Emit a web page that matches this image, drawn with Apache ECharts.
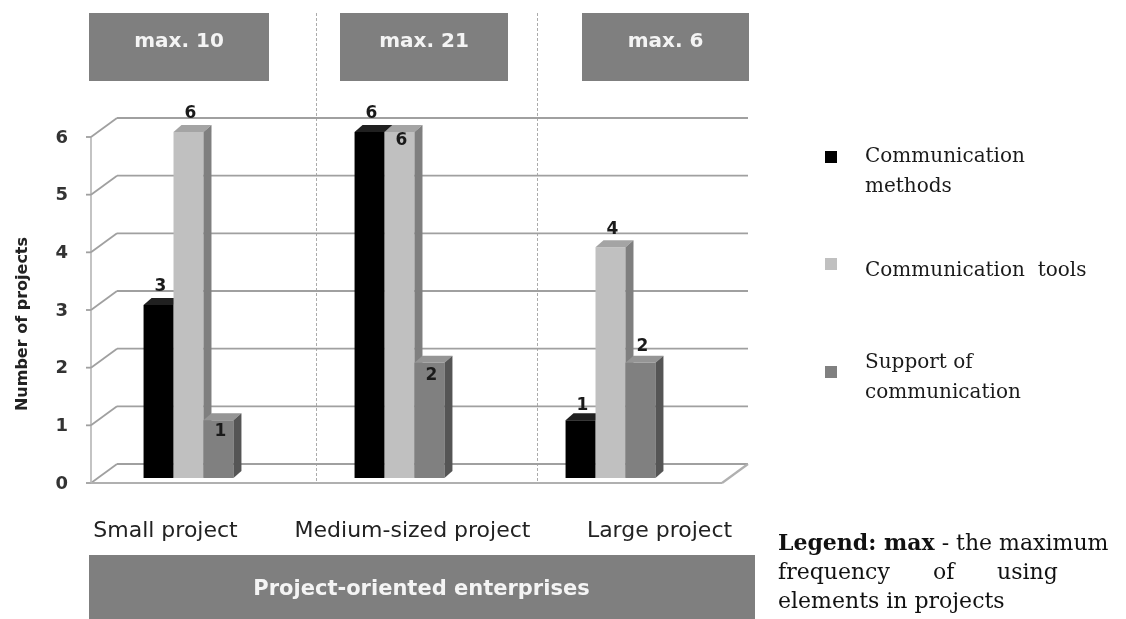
<!DOCTYPE html>
<html>
<head>
<meta charset="utf-8">
<script src="https://cdn.jsdelivr.net/npm/echarts@6/dist/echarts.min.js"></script>
<style>html,body{margin:0;padding:0;background:#fff;}#c{width:1126px;height:619px;}</style>
</head>
<body>
<div id="c"></div>
<script>
// ---- data ----
var categories = ['Small project', 'Medium-sized project', 'Large project'];
var seriesNames = ['Communication methods', 'Communication tools', 'Support of communication'];
var commMethods = [3, 6, 1];
var commTools = [6, 6, 4];
var commSupport = [1, 2, 2];
var yTicks = [0, 1, 2, 3, 4, 5, 6];
var maxValues = [10, 21, 6];
var groupTitle = 'Project-oriented enterprises';

// ---- styles ----
var seriesValues = [commMethods, commTools, commSupport];
var seriesStyles = [
  {front: '#000000', top: '#202020', side: '#000000'},
  {front: '#c0c0c0', top: '#a4a4a4', side: '#7f7f7f'},
  {front: '#808080', top: '#959595', side: '#555555'}
];
var labelDy = [[-18, -18, -15], [-18, 9, -18], [11, 13, -16]];
var BAR_RATIO = 0.142, DX = 8, DY = 7;
var FRONT_DY = 5, BACK_DY = 14;
var SANS = 'DejaVu Sans', SERIF = 'DejaVu Serif';
var GRID_COLOR = '#a0a0a0';

var chart = echarts.init(document.getElementById('c'), null, {renderer: 'canvas'});

function renderFrame(params, api) {
  var v = api.value(1);
  var cs = params.coordSys;
  var y = api.coord([0, v])[1];
  var yf = y + FRONT_DY, yb = y - BACK_DY;
  var fl = cs.x + 8, bl = cs.x + 34, br = cs.x + cs.width + 32, fr = cs.x + cs.width + 6;
  var ls = {stroke: GRID_COLOR, lineWidth: 1.8};
  var ch = [
    {type: 'line', shape: {x1: bl, y1: yb, x2: br, y2: yb}, style: ls},
    {type: 'line', shape: {x1: fl, y1: yf, x2: bl, y2: yb}, style: ls},
    {type: 'line', shape: {x1: fl - 5, y1: yf, x2: fl, y2: yf}, style: ls}
  ];
  if (v === yTicks[0]) {
    var ytop = api.coord([0, yTicks[yTicks.length - 1]])[1] + FRONT_DY;
    ch.push({type: 'line', shape: {x1: fl, y1: yf, x2: fr, y2: yf}, style: {stroke: '#b0b0b0', lineWidth: 2.2}});
    ch.push({type: 'line', shape: {x1: fr, y1: yf, x2: br, y2: yb}, style: {stroke: '#b0b0b0', lineWidth: 2.2}});
    ch.push({type: 'line', shape: {x1: fl, y1: ytop, x2: fl, y2: yf}, style: {stroke: '#b5b5b5', lineWidth: 1.6}});
  }
  return {type: 'group', children: ch};
}

function makeBarRender(si) {
  return function (params, api) {
    var c = api.value(0), v = api.value(1);
    var pt = api.coord([c, v]);
    var base = api.coord([c, 0])[1];
    var band = api.size([1, 0])[0];
    var bw = band * BAR_RATIO;
    var x0 = pt[0] - 1.5 * bw + si * bw;
    var top = pt[1];
    var st = seriesStyles[si];
    return {
      type: 'group',
      children: [
        {type: 'rect', shape: {x: x0, y: top, width: bw, height: base - top}, style: {fill: st.front}},
        {type: 'polygon', shape: {points: [[x0, top], [x0 + bw, top], [x0 + bw + DX, top - DY], [x0 + DX, top - DY]]}, style: {fill: st.top}},
        {type: 'polygon', shape: {points: [[x0 + bw, top], [x0 + bw + DX, top - DY], [x0 + bw + DX, base - DY], [x0 + bw, base]]}, style: {fill: st.side}},
        {type: 'text', x: x0 + bw / 2 + 2, y: top + labelDy[si][c], z2: 10,
          style: {text: String(v), fill: '#1a1a1a', fontSize: 17, fontWeight: 'bold', fontFamily: SANS, align: 'center', verticalAlign: 'middle'}}
      ]
    };
  };
}

var series = [{
  type: 'custom', name: '_frame', xAxisIndex: 0, yAxisIndex: 0, z: 1,
  renderItem: renderFrame, silent: true,
  encode: {x: 0, y: 1},
  data: yTicks.map(function (v) { return [0, v]; })
}];
seriesValues.forEach(function (vals, si) {
  series.push({
    type: 'custom', name: seriesNames[si], xAxisIndex: 0, yAxisIndex: 0, z: 2 + si,
    renderItem: makeBarRender(si), silent: true,
    itemStyle: {color: seriesStyles[si].front},
    encode: {x: 0, y: 1},
    data: vals.map(function (v, c) { return [c, v]; })
  });
});

var legendLabels = {
  'Communication methods': ['Communication', 'methods'],
  'Communication tools': ['Communication  tools'],
  'Support of communication': ['Support of', 'communication']
};
var legendCfg = [
  {top: 125, pad: 30},
  {top: 247, pad: 14},
  {top: 340, pad: 11}
];
var legends = seriesNames.map(function (n, i) {
  return {
    data: [n], left: 825, top: legendCfg[i].top, orient: 'vertical', padding: 0,
    selectedMode: false, icon: 'rect', itemWidth: 12, itemHeight: 12,
    formatter: function (name) {
      return '{p| }\n' + legendLabels[name].map(function (l) { return '{t|' + l + '}'; }).join('\n');
    },
    textStyle: {
      fontFamily: SERIF, fontSize: 20, color: '#1a1a1a',
      rich: {
        p: {fontSize: 4, lineHeight: legendCfg[i].pad, padding: [0, 0, 0, 23]},
        t: {fontFamily: SERIF, fontSize: 20, lineHeight: 30, color: '#1a1a1a', padding: [0, 0, 0, 23]}
      }
    }
  };
});

var boxes = [[89, 269], [340, 508], [582, 749]];
var graphics = [];
boxes.forEach(function (b, i) {
  graphics.push({type: 'rect', shape: {x: b[0], y: 13, width: b[1] - b[0], height: 68}, style: {fill: '#7f7f7f'}, z: 0});
  graphics.push({type: 'text', x: (b[0] + b[1]) / 2, y: 42, style: {text: 'max. ' + maxValues[i], fill: '#f4f4f4', fontSize: 20, fontWeight: 'bold', fontFamily: SANS, align: 'center', verticalAlign: 'middle'}, z: 1});
});
[316.5, 537.5].forEach(function (x) {
  graphics.push({type: 'line', shape: {x1: x, y1: 13, x2: x, y2: 484}, style: {stroke: '#ababab', lineWidth: 1, lineDash: [3, 2]}, z: 0});
});
graphics.push({type: 'rect', shape: {x: 89, y: 555, width: 666, height: 64}, style: {fill: '#7f7f7f'}, z: 0});
graphics.push({type: 'text', x: 421.5, y: 590, style: {text: groupTitle, fill: '#f4f4f4', fontSize: 21, fontWeight: 'bold', fontFamily: SANS, align: 'center', verticalAlign: 'middle'}, z: 1});
var NOTE_FS = 22;
graphics.push({type: 'text', x: 778, y: 544, style: {text: '{b|Legend: max} - the maximum', fill: '#111', fontSize: NOTE_FS, fontFamily: SERIF, verticalAlign: 'middle', rich: {b: {fontWeight: 'bold', fontSize: NOTE_FS, fontFamily: SERIF, fill: '#111'}}}});
[['frequency', 778], ['of', 933], ['using', 997]].forEach(function (w) {
  graphics.push({type: 'text', x: w[1], y: 573, style: {text: w[0], fill: '#111', fontSize: NOTE_FS, fontFamily: SERIF, verticalAlign: 'middle'}});
});
graphics.push({type: 'text', x: 778, y: 602, style: {text: 'elements in projects', fill: '#111', fontSize: NOTE_FS, fontFamily: SERIF, verticalAlign: 'middle'}});

chart.setOption({
  animation: false,
  backgroundColor: '#ffffff',
  color: seriesStyles.map(function (s) { return s.front; }),
  grid: [
    {left: 83, right: 410, top: 132, bottom: 141},
    {left: 42, right: 343, top: 10, bottom: 99}
  ],
  xAxis: [
    {type: 'category', gridIndex: 0, data: categories, axisLine: {show: false}, axisTick: {show: false}, axisLabel: {show: false}},
    {type: 'category', gridIndex: 1, data: categories, axisLine: {show: false}, axisTick: {show: false},
      axisLabel: {interval: 0, hideOverlap: false, margin: 0, fontFamily: SANS, fontSize: 22, lineHeight: 22, color: '#222'}}
  ],
  yAxis: [
    {type: 'value', gridIndex: 0, min: 0, max: 6, interval: 1,
      splitLine: {show: false}, axisLine: {show: false}, axisTick: {show: false},
      axisLabel: {margin: 15, fontFamily: SANS, fontSize: 18, fontWeight: 'bold', color: '#333', verticalAlign: 'top', lineHeight: 12},
      name: 'Number of projects', nameLocation: 'middle', nameGap: 52,
      nameTextStyle: {fontFamily: SANS, fontSize: 16, fontWeight: 'bold', color: '#222', padding: [0, 38, 0, 0]}},
    {type: 'value', gridIndex: 1, show: false}
  ],
  legend: legends,
  graphic: graphics,
  series: series
});
</script>
</body>
</html>
